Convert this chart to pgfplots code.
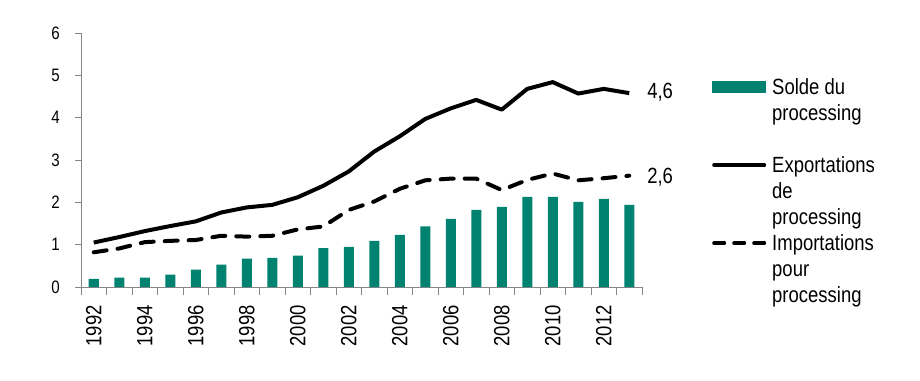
\documentclass[border=0pt]{standalone}
\usepackage{fontspec}
\setmainfont{Liberation Sans}[FakeStretch=0.84]
\usepackage{pgfplots}
\pgfplotsset{compat=1.18}
\definecolor{tealbar}{RGB}{0,130,112}
\definecolor{axgray}{RGB}{134,134,134}
\begin{document}
\begin{tikzpicture}
\useasboundingbox (-81pt,-93pt) rectangle (839pt,287pt);
\begin{axis}[
  at={(0pt,0pt)}, anchor=south west,
  scale only axis, width=561pt, height=254pt,
  xmin=1991.5, xmax=2013.5, ymin=0, ymax=6,
  axis x line=bottom, axis y line=left,
  axis line style={-, draw=axgray, line width=0.8pt},
  ytick={0,1,2,3,4,5,6},
  xtick={1992,1994,...,2012},
  xticklabels={1992,1994,1996,1998,2000,2002,2004,2006,2008,2010,2012},
  minor xtick={1991.5,1992.5,...,2013.5},
  tick align=outside,
  major tick length=6pt, minor tick length=8pt,
  tick style={draw=axgray, line width=0.8pt},
  major x tick style={draw=none},
  /pgf/number format/assume math mode=true,
  yticklabel style={font=\fontsize{18}{20}\selectfont, anchor=east, inner sep=0pt, xshift=-15pt},
  xticklabel style={font=\fontsize{22}{24}\selectfont, rotate=90, anchor=east, inner sep=0pt, xshift=-12pt},
  legend cell align=left,
  legend style={at={(1.1248,0.8315)}, anchor=north west, draw=none, fill=none,
    inner sep=0pt, row sep=0pt, column sep=5pt,
    nodes={inner sep=0pt, anchor=base west, text height=18.2pt, text depth=7.8pt},
    cells={anchor=base west},
    font=\fontsize{22}{26}\selectfont},
  clip=false,
]
\addplot[ybar, bar width=10pt, bar shift=0pt, fill=tealbar, draw=none,
  legend image code/.code={\fill[tealbar] (0pt,1pt) rectangle (54pt,13pt);}]
coordinates {
(1992,0.19) (1993,0.22) (1994,0.22) (1995,0.29) (1996,0.41) (1997,0.53)
(1998,0.67) (1999,0.69) (2000,0.74) (2001,0.92) (2002,0.95) (2003,1.09)
(2004,1.23) (2005,1.43) (2006,1.61) (2007,1.82) (2008,1.89) (2009,2.13)
(2010,2.13) (2011,2.01) (2012,2.08) (2013,1.94)};
\addlegendentry{Solde du}
\addlegendimage{empty legend}
\addlegendentry{processing}
\addlegendimage{empty legend}
\addlegendentry{\mbox{}}
\addplot[black, line width=4pt, line join=round,
  legend image code/.code={\draw[black, line width=4pt, line cap=round] (2pt,7pt) -- (52pt,7pt);}]
coordinates {
(1992,1.05) (1993,1.18) (1994,1.32) (1995,1.44) (1996,1.55) (1997,1.76)
(1998,1.88) (1999,1.94) (2000,2.12) (2001,2.39) (2002,2.73) (2003,3.20)
(2004,3.56) (2005,3.97) (2006,4.22) (2007,4.42) (2008,4.19) (2009,4.68)
(2010,4.84) (2011,4.57) (2012,4.68) (2013,4.58)};
\addlegendentry{Exportations}
\addlegendimage{empty legend}
\addlegendentry{de}
\addlegendimage{empty legend}
\addlegendentry{processing}
\addplot[black, line width=4pt, line join=round, line cap=round, dash pattern=on 13pt off 11pt,
  legend image code/.code={\draw[black, line width=4pt, line cap=round, dash pattern=on 10pt off 10pt] (2pt,7pt) -- (53pt,7pt);}]
coordinates {
(1992,0.82) (1993,0.91) (1994,1.06) (1995,1.09) (1996,1.11) (1997,1.21)
(1998,1.19) (1999,1.21) (2000,1.36) (2001,1.43) (2002,1.82) (2003,2.02)
(2004,2.32) (2005,2.52) (2006,2.56) (2007,2.56) (2008,2.29) (2009,2.53)
(2010,2.68) (2011,2.52) (2012,2.57) (2013,2.63)};
\addlegendentry{Importations}
\addlegendimage{empty legend}
\addlegendentry{pour}
\addlegendimage{empty legend}
\addlegendentry{processing}
\node[anchor=west, inner sep=0pt, font=\fontsize{22}{26}\selectfont] at (axis cs:2013.7,4.6) {4,6};
\node[anchor=west, inner sep=0pt, font=\fontsize{22}{26}\selectfont] at (axis cs:2013.7,2.6) {2,6};
\end{axis}
\end{tikzpicture}
\end{document}
